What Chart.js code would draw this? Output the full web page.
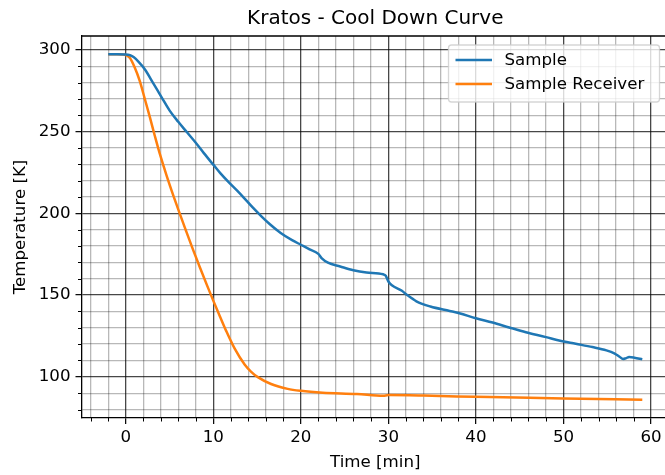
<!DOCTYPE html>
<html>
<head>
<meta charset="utf-8">
<script src="https://cdn.jsdelivr.net/npm/chart.js@4"></script>
<style>
html,body{margin:0;padding:0;overflow:hidden;background:#fff;width:665px;height:475px}
canvas{display:block}
</style>
</head>
<body>
<canvas id="c" width="750" height="475"></canvas>
<script>
const chartTitle = 'Kratos - Cool Down Curve';
const xLabel = 'Time [min]';
const yLabel = 'Temperature [K]';
const seriesNames = ['Sample', 'Sample Receiver'];

const sampleTime = [-2, -1, 0, 0.5, 0.9, 1.5, 2.2, 3.1, 4.1, 5.0, 6.0, 7.0, 8.0, 8.9, 10.0, 10.8, 11.7, 12.7, 13.5, 14.5, 15.5, 16.5, 17.7, 19.0, 20.0, 21.0, 22.0, 22.4, 23.1, 24.5, 26.0, 27.5, 29.4, 29.7, 30.0, 30.4, 31.5, 32.1, 33.2, 34.8, 37.0, 38.1, 40.0, 41.9, 43.8, 45.7, 48.0, 49.5, 51.4, 53.3, 54.9, 55.8, 56.4, 56.8, 57.1, 57.5, 58.1, 59.0];
const sampleTemp = [297.3, 297.3, 297.2, 296.7, 295.6, 292.5, 288.0, 280.0, 271.0, 263.0, 256.0, 249.6, 243.2, 237.0, 229.8, 224.6, 219.4, 214.0, 209.5, 203.6, 198.2, 193.2, 188.0, 183.6, 180.8, 178.0, 175.2, 172.5, 169.8, 167.5, 165.2, 163.8, 162.7, 161.8, 158.3, 156.0, 152.8, 150.2, 146.2, 143.0, 140.3, 138.9, 135.8, 133.2, 130.2, 127.3, 124.3, 122.2, 120.2, 118.2, 116.2, 114.4, 112.3, 110.9, 111.3, 112.1, 111.7, 110.7];

const receiverTime = [-2, -1, -0.2, 0.46, 1.03, 1.6, 2.18, 2.75, 3.32, 3.89, 4.66, 5.42, 6.1, 6.8, 7.6, 8.5, 9.3, 10.0, 10.75, 11.5, 12.45, 13.58, 14.3, 15.09, 16.6, 18.5, 20.0, 22.5, 26.4, 29.4, 30.0, 34.0, 37.8, 41.6, 50.0, 59.0];
const receiverTemp = [297.3, 297.3, 297.1, 295.2, 289.2, 281.0, 270.0, 259.0, 247.5, 236.5, 223.3, 211.2, 200.9, 190.6, 179.0, 166.6, 155.8, 146.6, 137.1, 127.8, 117.2, 107.5, 103.2, 99.8, 95.6, 92.6, 91.4, 90.3, 89.5, 88.4, 88.8, 88.5, 88.0, 87.7, 86.8, 86.0];

const xTicks = [-4, -2, 0, 2, 4, 6, 8, 10, 12, 14, 16, 18, 20, 22, 24, 26, 28, 30, 32, 34, 36, 38, 40, 42, 44, 46, 48, 50, 52, 54, 56, 58, 60];
const xTickLabels = [0, 10, 20, 30, 40, 50, 60];
const yTicks = [80, 90, 100, 110, 120, 130, 140, 150, 160, 170, 180, 190, 200, 210, 220, 230, 240, 250, 260, 270, 280, 290, 300];
const yTickLabels = [100, 150, 200, 250, 300];

const MAJOR = 'rgba(0,0,0,0.72)';
const MINOR = 'rgba(0,0,0,0.28)';
const FONT = 'DejaVu Sans';

Chart.defaults.font.family = FONT;
Chart.defaults.font.size = 16.67;
Chart.defaults.color = '#000';

const frame = {
  id: 'frame',
  afterDatasetsDraw(chart) {
    const {ctx, chartArea: a} = chart;
    ctx.save();
    ctx.strokeStyle = '#000';
    ctx.lineWidth = 1.3;
    ctx.beginPath();
    ctx.moveTo(a.left, a.top);
    ctx.lineTo(a.right, a.top);
    ctx.lineTo(a.right, a.bottom);
    ctx.stroke();
    // short minor tick marks, as in the reference
    ctx.lineWidth = 1.0;
    const xs = chart.scales.x, ys = chart.scales.y;
    ctx.beginPath();
    xTicks.filter(v => !xTickLabels.includes(v)).forEach(v => {
      const px = Math.round(xs.getPixelForValue(v)) + 0.5;
      ctx.moveTo(px, a.bottom);
      ctx.lineTo(px, a.bottom + 3.5);
    });
    yTicks.filter(v => !yTickLabels.includes(v)).forEach(v => {
      const py = Math.round(ys.getPixelForValue(v)) + 0.5;
      ctx.moveTo(a.left, py);
      ctx.lineTo(a.left - 3.5, py);
    });
    ctx.stroke();
    ctx.restore();
  }
};

const mplLegend = {
  id: 'mplLegend',
  afterDraw(chart) {
    const {ctx, chartArea: a} = chart;
    const w = 211, h = 57;
    const right = a.right - 9.5, top = a.top + 9;
    const left = right - w;
    const r = 3;
    ctx.save();
    ctx.beginPath();
    ctx.moveTo(left + r, top);
    ctx.arcTo(right, top, right, top + h, r);
    ctx.arcTo(right, top + h, left, top + h, r);
    ctx.arcTo(left, top + h, left, top, r);
    ctx.arcTo(left, top, right, top, r);
    ctx.closePath();
    ctx.fillStyle = 'rgba(255,255,255,0.8)';
    ctx.fill();
    ctx.strokeStyle = 'rgba(204,204,204,0.8)';
    ctx.lineWidth = 1.3;
    ctx.stroke();
    chart.data.datasets.forEach((ds, i) => {
      const y = top + 15 + i * 24;
      ctx.beginPath();
      ctx.strokeStyle = ds.borderColor;
      ctx.lineWidth = 2.5;
      ctx.moveTo(left + 7, y);
      ctx.lineTo(left + 43.5, y);
      ctx.stroke();
      ctx.fillStyle = '#000';
      ctx.font = '16.67px "' + FONT + '"';
      ctx.textBaseline = 'middle';
      ctx.textAlign = 'left';
      ctx.fillText(ds.label, left + 56, y + 1);
    });
    ctx.restore();
  }
};

new Chart(document.getElementById('c'), {
  type: 'line',
  data: {
    datasets: [
      {
        label: seriesNames[0],
        data: sampleTime.map((t, i) => ({x: t, y: sampleTemp[i]})),
        borderColor: '#1f77b4',
        borderWidth: 2.5,
        pointRadius: 0,
        fill: false,
        cubicInterpolationMode: 'monotone'
      },
      {
        label: seriesNames[1],
        data: receiverTime.map((t, i) => ({x: t, y: receiverTemp[i]})),
        borderColor: '#ff7f0e',
        borderWidth: 2.5,
        pointRadius: 0,
        fill: false,
        cubicInterpolationMode: 'monotone'
      }
    ]
  },
  options: {
    responsive: false,
    animation: false,
    devicePixelRatio: 1,
    layout: {padding: {left: 0, right: 81, top: 0, bottom: 0}},
    plugins: {
      legend: {display: false},
      tooltip: {enabled: false},
      title: {
        display: true,
        fullSize: false,
        text: chartTitle,
        color: '#000',
        font: {family: FONT, size: 20, weight: 'normal'},
        padding: {top: 7, bottom: 5}
      }
    },
    scales: {
      x: {
        type: 'linear',
        min: -5.05,
        max: 62.05,
        afterBuildTicks: s => { s.ticks = xTicks.map(v => ({value: v})); },
        afterFit: s => { s.height = 57; },
        ticks: {
          autoSkip: false,
          maxRotation: 0,
          padding: 4,
          color: '#000',
          font: {size: 16.67},
          callback: v => xTickLabels.includes(v) ? String(v) : ''
        },
        grid: {
          color: c => (c.tick && xTickLabels.includes(c.tick.value)) ? MAJOR : MINOR,
          lineWidth: 1.3,
          tickColor: c => (c.tick && xTickLabels.includes(c.tick.value)) ? '#000' : 'rgba(0,0,0,0)',
          tickLength: 6,
          tickWidth: 1.2
        },
        border: {color: '#000', width: 1.3},
        title: {display: true, text: xLabel, color: '#000', font: {size: 16.67}, padding: {top: 0, bottom: 2}}
      },
      y: {
        type: 'linear',
        min: 74.8,
        max: 308.5,
        afterBuildTicks: s => { s.ticks = yTicks.map(v => ({value: v})); },
        afterFit: s => { s.width = 81.5; },
        ticks: {
          autoSkip: false,
          padding: 5,
          color: '#000',
          font: {size: 16.67},
          callback: v => yTickLabels.includes(v) ? String(v) : ''
        },
        grid: {
          color: c => (c.tick && yTickLabels.includes(c.tick.value)) ? MAJOR : MINOR,
          lineWidth: 1.3,
          tickColor: c => (c.tick && yTickLabels.includes(c.tick.value)) ? '#000' : 'rgba(0,0,0,0)',
          tickLength: 6,
          tickWidth: 1.2
        },
        border: {color: '#000', width: 1.3},
        title: {display: true, text: yLabel, color: '#000', font: {size: 16.67}, padding: {top: 11, bottom: 0}}
      }
    }
  },
  plugins: [frame, mplLegend]
});
</script>
</body>
</html>
